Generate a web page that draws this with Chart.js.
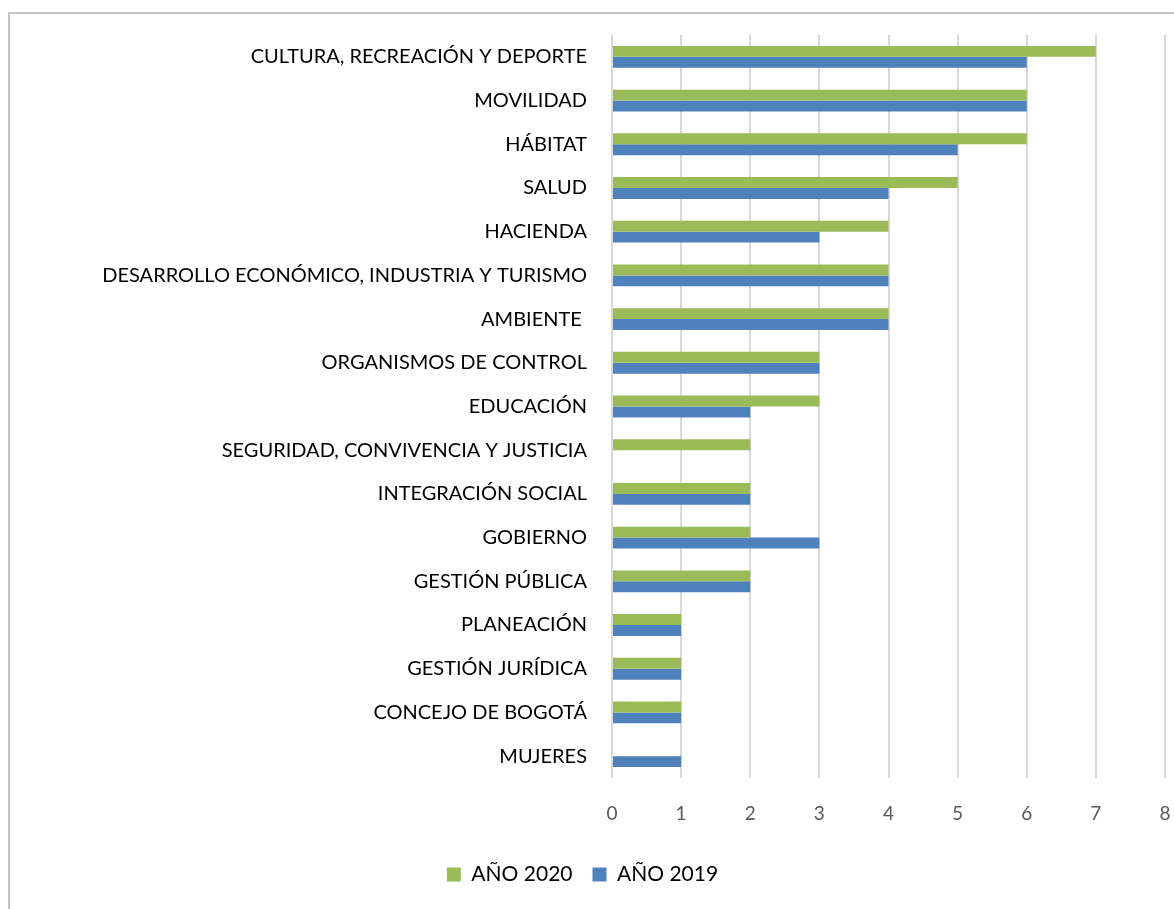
<!DOCTYPE html>
<html>
<head>
<meta charset="utf-8">
<script src="https://cdn.jsdelivr.net/npm/chart.js@4.4.0/dist/chart.umd.min.js"></script>
<style>
  html, body { margin: 0; padding: 0; background: #fff; }
  #wrap { position: relative; width: 1174px; height: 909px; overflow: hidden; }
  #frame { position: absolute; left: 8px; top: 12px; width: 1200px; height: 950px;
           border-left: 2px solid #c4c4c4; border-top: 2px solid #c4c4c4; }
  canvas { position: absolute; left: 0; top: 0; }
</style>
</head>
<body>
<div id="wrap">
  <div id="frame"></div>
  <canvas id="chart" width="1174" height="909"></canvas>
</div>
<script>
// sectors, top to bottom
const sectores = [
  'CULTURA, RECREACIÓN Y DEPORTE',
  'MOVILIDAD',
  'HÁBITAT',
  'SALUD',
  'HACIENDA',
  'DESARROLLO ECONÓMICO, INDUSTRIA Y TURISMO',
  'AMBIENTE ',
  'ORGANISMOS DE CONTROL',
  'EDUCACIÓN',
  'SEGURIDAD, CONVIVENCIA Y JUSTICIA',
  'INTEGRACIÓN SOCIAL',
  'GOBIERNO',
  'GESTIÓN PÚBLICA',
  'PLANEACIÓN',
  'GESTIÓN JURÍDICA',
  'CONCEJO DE BOGOTÁ',
  'MUJERES'
];
const anio2020 = [7, 6, 6, 5, 4, 4, 4, 3, 3, 2, 2, 2, 2, 1, 1, 1, 0];
const anio2019 = [6, 6, 5, 4, 3, 4, 4, 3, 2, 0, 2, 3, 2, 1, 1, 1, 1];
const ticksX = [0, 1, 2, 3, 4, 5, 6, 7, 8];

const FONT = 'Lato, "Open Sans", sans-serif';

const ctx = document.getElementById('chart').getContext('2d');
new Chart(ctx, {
  type: 'bar',
  data: {
    labels: sectores,
    datasets: [
      { label: 'AÑO 2020', data: anio2020, backgroundColor: '#9bbb59', borderWidth: 0 },
      { label: 'AÑO 2019', data: anio2019, backgroundColor: '#4f81bd', borderWidth: 0 }
    ]
  },
  options: {
    indexAxis: 'y',
    responsive: false,
    animation: false,
    devicePixelRatio: 1,
    categoryPercentage: 0.5,
    barPercentage: 1.0,
    layout: { padding: { top: 35, right: 9, bottom: 14, left: 0 } },
    plugins: {
      tooltip: { enabled: false },
      legend: {
        position: 'bottom',
        labels: {
          color: '#000',
          font: { family: FONT, size: 21 },
          boxWidth: 14, boxHeight: 14,
          padding: 20
        }
      }
    },
    scales: {
      x: {
        min: 0, max: 8,
        afterBuildTicks: (s) => { s.ticks = ticksX.map(v => ({ value: v })); },
        afterFit: (s) => { s.height = 66; s.paddingLeft = 0; s.paddingRight = 0; },
        grid: { color: '#d9d9d9', lineWidth: 2, drawTicks: false },
        border: { display: false },
        ticks: { color: '#595959', font: { family: FONT, size: 19 }, padding: 24 }
      },
      y: {
        afterFit: (s) => { s.width = 612; },
        grid: { display: false },
        border: { display: false },
        ticks: { color: '#000', font: { family: FONT, size: 20 }, padding: 17, autoSkip: false }
      }
    }
  }
});
</script>
</body>
</html>
